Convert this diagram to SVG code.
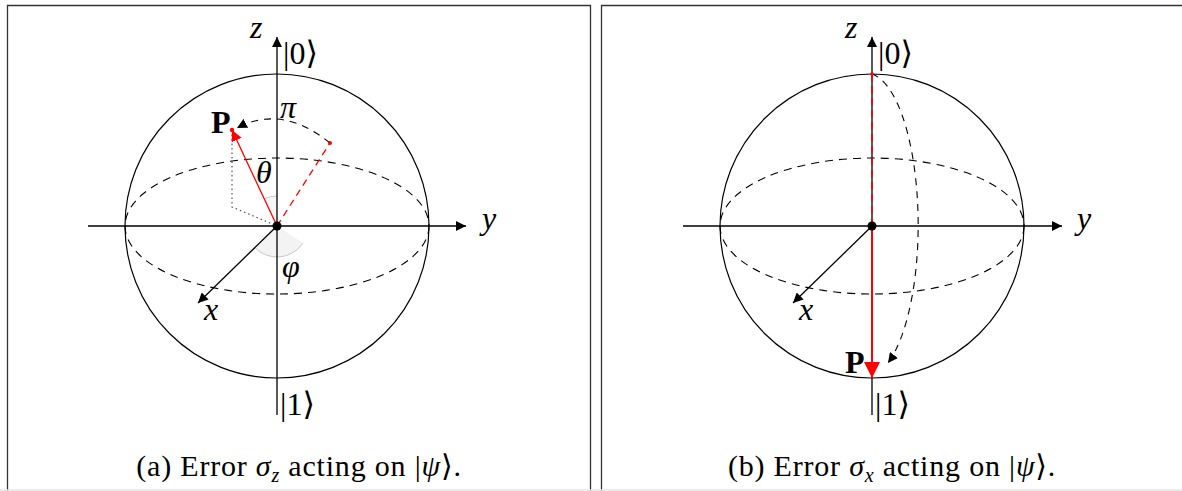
<svg xmlns="http://www.w3.org/2000/svg" width="1182" height="491" viewBox="0 0 1182 491">
<defs>
<style>
.frame{fill:none;stroke:#333;stroke-width:1.3}
.sph{fill:none;stroke:#000;stroke-width:1.2}
.eq{fill:none;stroke:#000;stroke-width:1.1;stroke-dasharray:8,6}
.ax{fill:none;stroke:#000;stroke-width:1.3}
.lbl{font-family:"Liberation Serif","DejaVu Serif",serif;font-size:32px;fill:#000}
.it{font-style:italic}
.bold{font-weight:bold}
.cap{font-family:"Liberation Serif","DejaVu Serif",serif;font-size:30px;letter-spacing:0.8px;fill:#000}
</style>
<marker id="ah" viewBox="0 0 10 10" refX="10" refY="5" markerWidth="10" markerHeight="10" markerUnits="userSpaceOnUse" orient="auto">
<path d="M0,0 L10,5 L0,10 Z" fill="#000"/>
</marker>
<marker id="ahr" viewBox="0 0 10 10" refX="10" refY="5" markerWidth="11" markerHeight="11" markerUnits="userSpaceOnUse" orient="auto">
<path d="M0,0 L10,5 L0,10 Z" fill="#f00"/>
</marker>
<marker id="ahrb" viewBox="0 0 10 10" refX="10" refY="5" markerWidth="16" markerHeight="16" markerUnits="userSpaceOnUse" orient="auto">
<path d="M0,0 L10,5 L0,10 Z" fill="#f00"/>
</marker>
</defs>
<rect width="1182" height="491" fill="#fff"/>
<g id="frames">
<path class="frame" d="M7.5,495 V5.5 H590.5 V495"/>
<path class="frame" d="M601.5,495 V5.5 H1190"/>
<line x1="0" y1="490" x2="1182" y2="490" stroke="#e4e4e4" stroke-width="1.5"/>
</g>

<g id="panel-a">
<g id="sphere-a">
<circle class="sph" cx="277" cy="226" r="152"/>
<ellipse class="eq" cx="277" cy="226" rx="152" ry="68"/>
</g>
<g id="angles-a">
<path d="M277,226 L277,196 A30,30 0 0 0 264.3,198.8 Z" fill="#f6f6f6" stroke="none"/>
<path d="M277,196 A30,30 0 0 0 264.3,198.8" fill="none" stroke="#c8c8c8" stroke-width="1"/>
<path d="M277,226 L254.8,247.6 A31,31 0 0 0 303,243 Z" fill="#f3f3f3" stroke="none"/>
<path d="M254.8,247.6 A31,31 0 0 0 303,243" fill="none" stroke="#c8c8c8" stroke-width="1"/>
</g>
<g id="connectors-a">
<line class="ax" x1="88" y1="226" x2="466" y2="226" marker-end="url(#ah)"/>
<line class="ax" x1="277" y1="415" x2="277" y2="37" marker-end="url(#ah)"/>
<line class="ax" x1="277" y1="226" x2="198" y2="303" stroke-width="1.2" marker-end="url(#ah)"/>
<path d="M232,130 V207 L277,226" fill="none" stroke="#555" stroke-width="1.2" stroke-dasharray="1.5,3"/>
<line x1="277" y1="226" x2="330" y2="143" stroke="#f00" stroke-width="1.3" stroke-dasharray="7,5"/>
<line x1="277" y1="226" x2="232" y2="130" stroke="#f00" stroke-width="1.3" marker-end="url(#ahr)"/>
<path d="M330,143 Q282,104 237,128" fill="none" stroke="#000" stroke-width="1.1" stroke-dasharray="7,6" marker-end="url(#ah)"/>
<circle cx="330" cy="143" r="2" fill="#f00"/>
<circle cx="232" cy="130" r="2.2" fill="#f00"/>
<circle cx="277" cy="226" r="4.5" fill="#000"/>
</g>
<g id="labels-a">
<text class="lbl it" x="250" y="38">z</text>
<text class="lbl" x="283" y="64">|0⟩</text>
<text class="lbl" x="280" y="415">|1⟩</text>
<text class="lbl it" x="482" y="229">y</text>
<text class="lbl it" x="204" y="320">x</text>
<text class="lbl bold" x="211" y="133" font-size="31">P</text>
<text class="lbl it" x="280" y="118" font-size="36">π</text>
<text class="lbl it" x="256" y="183">θ</text>
<text class="lbl it" x="282" y="277">φ</text>
</g>
<text class="cap" x="299" y="476" text-anchor="middle">(a) Error <tspan class="it">σ</tspan><tspan class="it" font-size="20" dy="6">z</tspan><tspan dy="-6"> acting on |</tspan><tspan class="it">ψ</tspan>⟩.</text>
</g>

<g id="panel-b">
<g id="sphere-b">
<circle class="sph" cx="872" cy="226" r="152"/>
<ellipse class="eq" cx="872" cy="226" rx="152" ry="68"/>
</g>
<g id="connectors-b">
<line class="ax" x1="683" y1="226" x2="1062" y2="226" marker-end="url(#ah)"/>
<line class="ax" x1="872" y1="415" x2="872" y2="37" marker-end="url(#ah)"/>
<line class="ax" x1="872" y1="226" x2="793" y2="303" stroke-width="1.2" marker-end="url(#ah)"/>
<line x1="872" y1="74" x2="872" y2="226" stroke="#f00" stroke-width="1.6" stroke-dasharray="7,5"/>
<path d="M872,74 A52,152 0 0 1 888,363" fill="none" stroke="#000" stroke-width="1.1" stroke-dasharray="7,6" marker-end="url(#ah)"/>
<line x1="872" y1="226" x2="872" y2="378" stroke="#f00" stroke-width="2" marker-end="url(#ahrb)"/>
<circle cx="872" cy="74" r="1.8" fill="#f00"/>
<circle cx="872" cy="226" r="4.5" fill="#000"/>
</g>
<g id="labels-b">
<text class="lbl it" x="845" y="38">z</text>
<text class="lbl" x="878" y="64">|0⟩</text>
<text class="lbl" x="875" y="415">|1⟩</text>
<text class="lbl it" x="1077" y="229">y</text>
<text class="lbl it" x="799" y="320">x</text>
<text class="lbl bold" x="845" y="373" font-size="31">P</text>
</g>
<text class="cap" x="892" y="476" text-anchor="middle">(b) Error <tspan class="it">σ</tspan><tspan class="it" font-size="20" dy="6">x</tspan><tspan dy="-6"> acting on |</tspan><tspan class="it">ψ</tspan>⟩.</text>
</g>
</svg>
